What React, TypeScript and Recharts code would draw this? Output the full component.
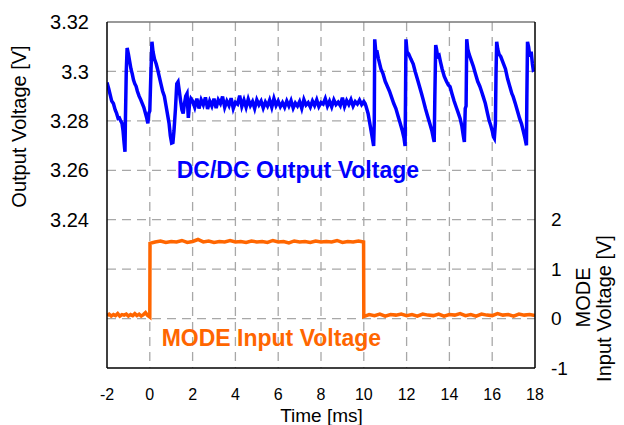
import { CartesianGrid, Line, LineChart, ReferenceLine, XAxis, YAxis } from "recharts";

const FONT = "'Liberation Sans', Arial, sans-serif";
const BLUE = "#0000ff";
const ORANGE = "#ff6600";

const TIME_TICKS = [-2, 0, 2, 4, 6, 8, 10, 12, 14, 16, 18];
const TIME_GRID = [0, 2, 4, 6, 8, 10, 12, 14, 16];
const OUTPUT_TICKS = [3.24, 3.26, 3.28, 3.3, 3.32];
const OUTPUT_GRID = [3.2, 3.22, 3.24, 3.26, 3.28, 3.3];
const MODE_TICKS = [-1, 0, 1, 2];

// [time ms, volts]
const DCDC_OUT: [number, number][] = [
  [-2.0, 3.2955], [-1.92, 3.293], [-1.85, 3.2905], [-1.78, 3.288], [-1.7, 3.287], [-1.62, 3.2845],
  [-1.55, 3.283], [-1.48, 3.281], [-1.42, 3.2812], [-1.36, 3.28], [-1.3, 3.279], [-1.25, 3.276],
  [-1.2, 3.271], [-1.16, 3.2675], [-1.14, 3.28], [-1.1, 3.3], [-1.06, 3.3095], [-1.0, 3.307],
  [-0.94, 3.304], [-0.88, 3.301], [-0.82, 3.299], [-0.76, 3.2965], [-0.7, 3.295], [-0.64, 3.294],
  [-0.58, 3.292], [-0.5, 3.29], [-0.42, 3.2885], [-0.35, 3.287], [-0.28, 3.2855], [-0.2, 3.283],
  [-0.14, 3.281], [-0.09, 3.279], [-0.05, 3.283], [0.0, 3.284], [0.04, 3.296], [0.1, 3.312],
  [0.15, 3.308], [0.22, 3.305], [0.3, 3.303], [0.36, 3.301], [0.44, 3.298], [0.52, 3.295],
  [0.6, 3.292], [0.68, 3.29], [0.76, 3.286], [0.84, 3.282], [0.9, 3.279], [0.96, 3.274],
  [1.02, 3.271], [1.08, 3.2712], [1.13, 3.276], [1.2, 3.285], [1.26, 3.295], [1.32, 3.2958],
  [1.38, 3.292], [1.44, 3.288], [1.5, 3.2845], [1.56, 3.283], [1.62, 3.287], [1.68, 3.29],
  [1.74, 3.291], [1.8, 3.2812], [1.86, 3.287], [1.92, 3.289],
  [2.0, 3.288], [2.1, 3.2855], [2.2, 3.289], [2.3, 3.285], [2.4, 3.2885], [2.5, 3.2865],
  [2.6, 3.2895], [2.7, 3.2848], [2.8, 3.288], [2.9, 3.286], [3.0, 3.289], [3.1, 3.2852],
  [3.2, 3.2885], [3.3, 3.287], [3.4, 3.2898], [3.5, 3.2855], [3.6, 3.288], [3.7, 3.2862],
  [3.8, 3.2892], [3.9, 3.285], [4.0, 3.2875], [4.1, 3.2868], [4.2, 3.2902], [4.3, 3.2858],
  [4.4, 3.2884], [4.5, 3.2855], [4.6, 3.2888], [4.7, 3.2862], [4.8, 3.2878], [4.9, 3.285],
  [5.0, 3.2885], [5.1, 3.2865], [5.2, 3.288], [5.3, 3.2852], [5.4, 3.2876], [5.5, 3.286],
  [5.6, 3.2884], [5.7, 3.2855], [5.8, 3.289], [5.9, 3.2862], [6.0, 3.288], [6.1, 3.2858],
  [6.2, 3.2874], [6.3, 3.2855], [6.4, 3.288], [6.5, 3.286], [6.6, 3.2882], [6.7, 3.2852],
  [6.8, 3.2872], [6.9, 3.286], [7.0, 3.2878], [7.1, 3.285], [7.2, 3.2886], [7.3, 3.2864],
  [7.4, 3.2874], [7.5, 3.2856], [7.6, 3.288], [7.7, 3.2862], [7.8, 3.2885], [7.9, 3.2858],
  [8.0, 3.2874], [8.1, 3.2868], [8.2, 3.289], [8.3, 3.286], [8.4, 3.288], [8.5, 3.2857],
  [8.6, 3.2885], [8.7, 3.2866], [8.8, 3.2876], [8.9, 3.2862], [9.0, 3.2894], [9.1, 3.2858],
  [9.2, 3.2882], [9.3, 3.2866], [9.4, 3.2886], [9.5, 3.286], [9.6, 3.2878], [9.7, 3.2868],
  [9.8, 3.2884], [9.9, 3.2866], [10.0, 3.2878], [10.06, 3.287],
  [10.1, 3.286], [10.2, 3.283], [10.3, 3.278], [10.4, 3.273], [10.46, 3.2698], [10.49, 3.28],
  [10.51, 3.313], [10.56, 3.308], [10.62, 3.308], [10.68, 3.3053], [10.8, 3.301], [10.9, 3.299],
  [11.0, 3.296], [11.1, 3.294], [11.2, 3.292], [11.3, 3.2895], [11.4, 3.287], [11.5, 3.285],
  [11.6, 3.282], [11.7, 3.279], [11.8, 3.276], [11.88, 3.273], [11.93, 3.2698], [11.95, 3.29],
  [11.97, 3.313], [12.02, 3.308], [12.1, 3.307], [12.2, 3.305], [12.31, 3.303], [12.4, 3.3],
  [12.5, 3.297], [12.6, 3.294], [12.7, 3.291], [12.78, 3.2884], [12.88, 3.285], [12.98, 3.282],
  [13.08, 3.279], [13.18, 3.276], [13.25, 3.273], [13.29, 3.2715], [13.32, 3.29], [13.36, 3.3107],
  [13.4, 3.309], [13.45, 3.306], [13.52, 3.3065], [13.58, 3.304], [13.66, 3.301], [13.76, 3.298],
  [13.86, 3.296], [13.95, 3.2945], [14.03, 3.2938], [14.12, 3.291], [14.22, 3.288], [14.32, 3.2855],
  [14.42, 3.283], [14.5, 3.281], [14.58, 3.278], [14.65, 3.274], [14.7, 3.2715], [14.74, 3.285],
  [14.78, 3.286], [14.81, 3.313], [14.86, 3.309], [14.92, 3.307], [15.0, 3.305], [15.12, 3.302],
  [15.22, 3.299], [15.32, 3.296], [15.42, 3.294], [15.5, 3.292], [15.58, 3.2898], [15.68, 3.287],
  [15.78, 3.283], [15.86, 3.28], [15.92, 3.2785], [16.0, 3.276], [16.06, 3.2735], [16.1, 3.2729],
  [16.15, 3.279], [16.18, 3.3], [16.21, 3.312], [16.26, 3.309], [16.32, 3.307], [16.4, 3.306],
  [16.52, 3.3033], [16.62, 3.301], [16.72, 3.297], [16.82, 3.294], [16.92, 3.291], [16.98, 3.2898],
  [17.08, 3.287], [17.18, 3.284], [17.28, 3.281], [17.37, 3.2788], [17.45, 3.276], [17.53, 3.273],
  [17.6, 3.2701], [17.62, 3.29], [17.65, 3.312], [17.7, 3.31], [17.76, 3.306], [17.82, 3.308],
  [17.88, 3.303], [17.92, 3.3006], [18.0, 3.301],
];

const MODE_IN: [number, number][] = [
  [-2.0, 0.06], [-1.9, 0.09], [-1.8, 0.05], [-1.7, 0.08], [-1.6, 0.06], [-1.5, 0.1], [-1.4, 0.05],
  [-1.3, 0.08], [-1.2, 0.07], [-1.1, 0.09], [-1.0, 0.05], [-0.9, 0.08], [-0.8, 0.06], [-0.7, 0.1],
  [-0.6, 0.06], [-0.5, 0.09], [-0.4, 0.05], [-0.3, 0.08], [-0.2, 0.12], [-0.1, 0.06], [0.0, 0.03],
  [0.01, 1.52], [0.25, 1.55], [0.5, 1.57], [0.75, 1.54], [1.0, 1.56], [1.25, 1.55], [1.5, 1.58],
  [1.75, 1.54], [2.0, 1.56], [2.25, 1.6], [2.5, 1.55], [2.75, 1.57], [3.0, 1.54], [3.25, 1.56],
  [3.5, 1.55], [3.75, 1.58], [4.0, 1.55], [4.25, 1.56], [4.5, 1.54], [4.75, 1.57], [5.0, 1.55],
  [5.25, 1.56], [5.5, 1.54], [5.75, 1.58], [6.0, 1.55], [6.25, 1.56], [6.5, 1.53], [6.75, 1.57],
  [7.0, 1.55], [7.25, 1.56], [7.5, 1.54], [7.75, 1.57], [8.0, 1.55], [8.25, 1.56], [8.5, 1.55],
  [8.75, 1.58], [9.0, 1.54], [9.25, 1.56], [9.5, 1.55], [9.75, 1.57], [9.99, 1.55],
  [10.0, 0.04], [10.25, 0.08], [10.5, 0.06], [10.75, 0.09], [11.0, 0.05], [11.25, 0.08],
  [11.5, 0.07], [11.75, 0.09], [12.0, 0.06], [12.25, 0.08], [12.5, 0.05], [12.75, 0.09],
  [13.0, 0.07], [13.25, 0.06], [13.5, 0.09], [13.75, 0.05], [14.0, 0.08], [14.25, 0.07],
  [14.5, 0.1], [14.75, 0.06], [15.0, 0.08], [15.25, 0.05], [15.5, 0.09], [15.75, 0.07],
  [16.0, 0.06], [16.25, 0.1], [16.5, 0.07], [16.75, 0.08], [17.0, 0.05], [17.25, 0.09],
  [17.5, 0.07], [17.75, 0.08], [18.0, 0.06],
];

const outputData = DCDC_OUT.map(([t, v]) => ({ t, v }));
const modeData = MODE_IN.map(([t, v]) => ({ t, v }));

const tickStyle = (size: number) => ({ fill: "#000", fontSize: size, fontFamily: FONT });

export default function App() {
  return (
    <div style={{ position: "absolute", left: 0, top: 0, width: 624, height: 425, background: "#fff" }}>
      <LineChart width={624} height={425} margin={{ top: 22, right: 0, bottom: 0, left: 0 }}>
        <CartesianGrid
          yAxisId="left"
          stroke="#a8a8a8"
          strokeDasharray="9 6"
          strokeWidth={1.3}
          verticalValues={TIME_GRID}
          horizontalValues={OUTPUT_GRID}
        />
        <XAxis
          dataKey="t"
          type="number"
          domain={[-2, 18]}
          ticks={TIME_TICKS}
          allowDataOverflow
          height={57}
          stroke="#000"
          strokeWidth={1.5}
          tickLine={false}
          tickMargin={15}
          tick={tickStyle(16)}
        />
        <YAxis
          yAxisId="left"
          type="number"
          domain={[3.18, 3.32]}
          ticks={OUTPUT_TICKS}
          allowDataOverflow
          width={107}
          stroke="#000"
          strokeWidth={1.5}
          tickLine={false}
          tickMargin={12}
          tick={tickStyle(20)}
          tickFormatter={(v: number) => String(+v.toFixed(2))}
        />
        <YAxis
          yAxisId="right"
          orientation="right"
          type="number"
          domain={[-1, 6]}
          ticks={MODE_TICKS}
          allowDataOverflow
          width={89}
          stroke="#000"
          strokeWidth={1.5}
          tickLine={false}
          tickMargin={10}
          tick={tickStyle(19)}
        />
        <ReferenceLine yAxisId="left" y={3.32} stroke="#777" strokeWidth={1.5} />
        <Line
          yAxisId="left"
          data={outputData}
          dataKey="v"
          type="linear"
          stroke={BLUE}
          strokeWidth={3.5}
          dot={false}
          isAnimationActive={false}
        />
        <Line
          yAxisId="right"
          data={modeData}
          dataKey="v"
          type="linear"
          stroke={ORANGE}
          strokeWidth={3.5}
          dot={false}
          isAnimationActive={false}
        />
      </LineChart>
      <svg
        width={624}
        height={425}
        style={{ position: "absolute", left: 0, top: 0, pointerEvents: "none" }}
        fontFamily={FONT}
      >
        <text x={25.5} y={126.5} fontSize={20} textAnchor="middle" transform="rotate(-90 25.5 126.5)">
          Output Voltage [V]
        </text>
        <text x={321.5} y={421.5} fontSize={19} textAnchor="middle">
          Time [ms]
        </text>
        <text x={590} y={297.5} fontSize={20} textAnchor="middle" transform="rotate(-90 590 297.5)">
          MODE
        </text>
        <text x={610.5} y={308.5} fontSize={20} textAnchor="middle" transform="rotate(-90 610.5 308.5)">
          Input Voltage [V]
        </text>
        <text x={176.7} y={178} fontSize={23} fontWeight="bold" fill={BLUE}>
          DC/DC Output Voltage
        </text>
        <text x={161.7} y={345.7} fontSize={23} fontWeight="bold" fill={ORANGE}>
          MODE Input Voltage
        </text>
      </svg>
    </div>
  );
}
